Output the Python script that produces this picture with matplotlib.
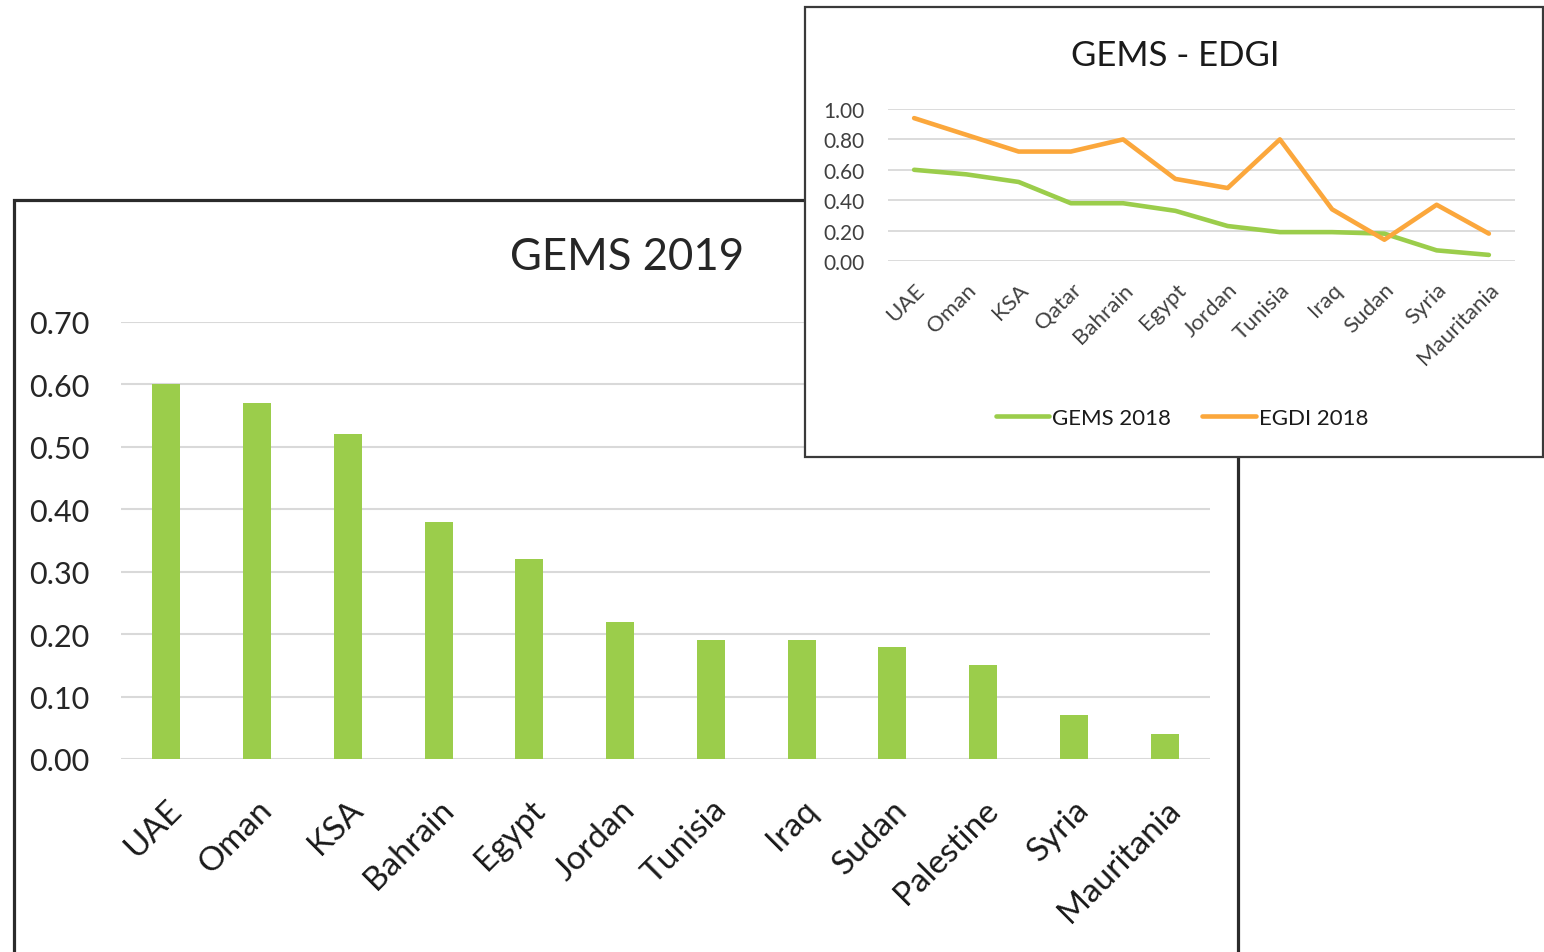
import matplotlib
matplotlib.use("Agg")
import matplotlib.pyplot as plt
from matplotlib.patches import Rectangle
import numpy as np

# ---- data ----
bar_countries = ["UAE", "Oman", "KSA", "Bahrain", "Egypt", "Jordan", "Tunisia",
                 "Iraq", "Sudan", "Palestine", "Syria", "Mauritania"]
gems_2019 = [0.60, 0.57, 0.52, 0.38, 0.32, 0.22, 0.19, 0.19, 0.18, 0.15, 0.07, 0.04]

line_countries = ["UAE", "Oman", "KSA", "Qatar", "Bahrain", "Egypt", "Jordan",
                  "Tunisia", "Iraq", "Sudan", "Syria", "Mauritania"]
gems_2018 = [0.60, 0.57, 0.52, 0.38, 0.38, 0.33, 0.23, 0.19, 0.19, 0.18, 0.07, 0.04]
egdi_2018 = [0.94, 0.83, 0.72, 0.72, 0.80, 0.54, 0.48, 0.80, 0.34, 0.14, 0.37, 0.18]

main_ticks = [0.0, 0.1, 0.2, 0.3, 0.4, 0.5, 0.6, 0.7]
inset_ticks = [0.0, 0.2, 0.4, 0.6, 0.8, 1.0]

GREEN = "#9BCD4B"
ORANGE = "#FBA73C"
GRID = "#D9D9D9"
FONT = "Lato"

W, H = 1544, 953
fig = plt.figure(figsize=(W / 100, H / 100), dpi=100)
fig.patch.set_facecolor("white")

def fx(px):
    return px / W

def fy(py):
    return 1 - py / H

# ---- main chart frame ----
fig.patches.append(Rectangle((fx(14), fy(1000)), fx(1238) - fx(14), fy(201) - fy(1000),
                             transform=fig.transFigure, fill=False, edgecolor="#2B2B2B",
                             linewidth=2.3, zorder=1, clip_on=False))

# ---- main bar chart ----
ax = fig.add_axes([fx(121), fy(760), fx(1210) - fx(121), fy(323) - fy(760)], zorder=0)
x = np.arange(len(bar_countries))
ax.bar(x, gems_2019, width=0.31, color=GREEN, zorder=3)
ax.set_xlim(-0.5, len(bar_countries) - 0.5)
ax.set_ylim(0, 0.7)
ax.set_yticks(main_ticks)
ax.set_yticklabels([f"{v:.2f}" for v in main_ticks], fontsize=22, color="#262626", family=FONT)
ax.set_xticks(x)
ax.set_xticklabels(bar_countries, rotation=45, ha="right", va="top",
                   rotation_mode="anchor", fontsize=24, color="#1A1A1A", family=FONT)
ax.tick_params(axis="both", length=0)
ax.tick_params(axis="y", pad=23)
ax.tick_params(axis="x", pad=25)
ax.yaxis.grid(True, color=GRID, linewidth=1.5, zorder=0)
ax.set_axisbelow(True)
for s in ax.spines.values():
    s.set_visible(False)
ax.set_facecolor("none")
fig.text(fx(627), fy(258), "GEMS 2019", ha="center", va="center",
         fontsize=31.5, color="#262626", family=FONT)

# ---- inset frame ----
fig.patches.append(Rectangle((fx(805), fy(458)), fx(1543) - fx(805), fy(8) - fy(458),
                             transform=fig.transFigure, facecolor="white", edgecolor="#3A3A3A",
                             linewidth=1.6, zorder=2))

# ---- inset line chart ----
ax2 = fig.add_axes([fx(888), fy(262), fx(1515) - fx(888), fy(110) - fy(262)], zorder=3)
x2 = np.arange(len(line_countries))
ax2.plot(x2, gems_2018, color=GREEN, linewidth=3.3, solid_capstyle="round",
         solid_joinstyle="round", label="GEMS 2018", zorder=3)
ax2.plot(x2, egdi_2018, color=ORANGE, linewidth=3.3, solid_capstyle="round",
         solid_joinstyle="round", label="EGDI 2018", zorder=3)
ax2.set_xlim(-0.5, len(line_countries) - 0.5)
ax2.set_ylim(0, 1.0)
ax2.set_yticks(inset_ticks)
ax2.set_yticklabels([f"{v:.2f}" for v in inset_ticks], fontsize=15, color="#404040", family=FONT)
ax2.set_xticks(x2)
ax2.set_xticklabels(line_countries, rotation=45, ha="right", va="top",
                    rotation_mode="anchor", fontsize=16, color="#404040", family=FONT)
ax2.tick_params(axis="both", length=0)
ax2.tick_params(axis="y", pad=17)
ax2.tick_params(axis="x", pad=13)
ax2.yaxis.grid(True, color=GRID, linewidth=1.3, zorder=0)
ax2.set_axisbelow(True)
for s in ax2.spines.values():
    s.set_visible(False)
ax2.set_facecolor("none")
fig.text(fx(1175), fy(56), "GEMS - EDGI", ha="center", va="center",
         fontsize=25, color="#1A1A1A", family=FONT, zorder=4)
leg = fig.legend(handles=ax2.get_lines(), loc="center", bbox_to_anchor=(fx(1182), fy(419)),
                 ncol=2, frameon=False, handlelength=2.4, handletextpad=0.15,
                 columnspacing=1.4, prop={"family": FONT, "size": 16})
leg.set_zorder(4)
for t in leg.get_texts():
    t.set_color("#1A1A1A")

fig.savefig("out.png", dpi=100)
